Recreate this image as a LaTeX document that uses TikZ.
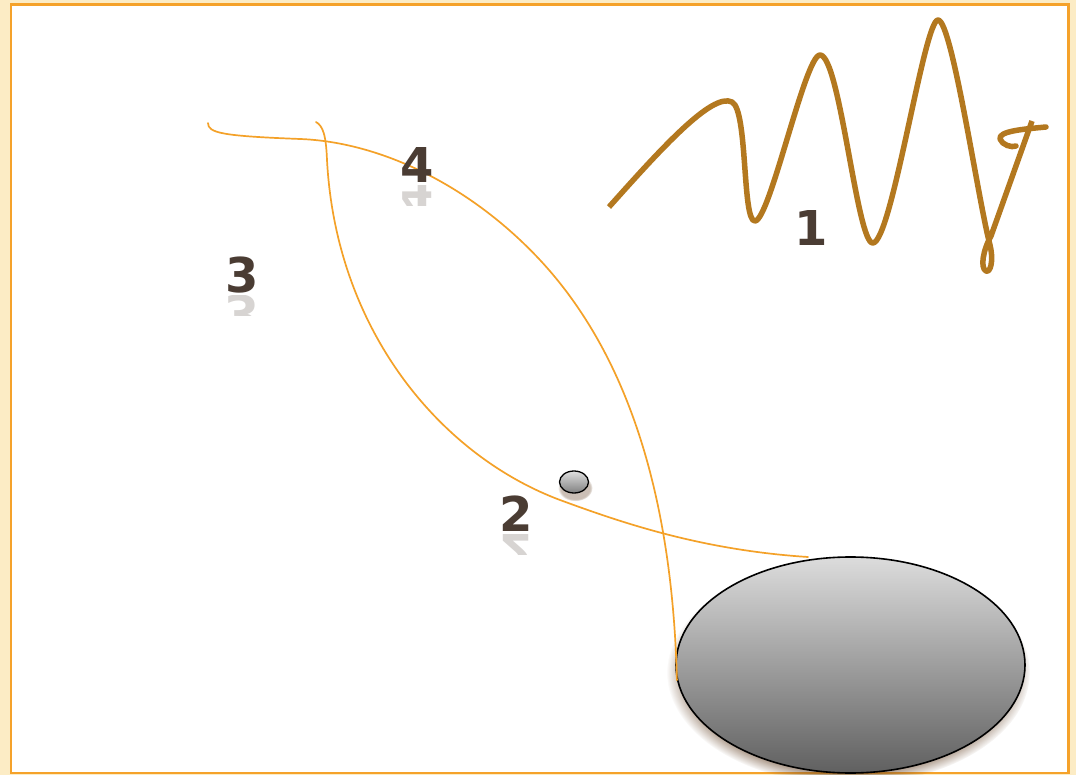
\documentclass[tikz,border=0pt]{standalone}
\usepackage{fontspec}
\usepackage{tikz}
\usetikzlibrary{shapes.geometric, shadows}
\newfontfamily\numfont{DejaVu Sans}
\definecolor{cream}{HTML}{FCECC5}
\definecolor{rim}{HTML}{F5A22A}
\definecolor{wire}{HTML}{F4A128}
\definecolor{ochre}{HTML}{B3781F}
\definecolor{cocoa}{HTML}{4A3C33}
\definecolor{silver}{HTML}{DCDCDC}
\definecolor{slate}{HTML}{606060}
\definecolor{umber}{HTML}{6B4A2E}

\begin{document}
\begin{tikzpicture}[x=1pt, y=-1pt,
  num/.style={font=\numfont\bfseries\fontsize{48pt}{48pt}\selectfont,
              text=cocoa, anchor=base, inner sep=0pt},
  refl/.style={num, text=cocoa!22, yscale=-1, transform shape},
  thread/.style={draw=wire, line width=1.7pt, line cap=round},
  squiggle/.style={draw=ochre, line width=5.5pt, line join=round},
  ball/.style={ellipse, draw=black, line width=1.3pt, inner sep=0pt,
               minimum width=29pt, minimum height=22pt,
               top color=silver!90, bottom color=slate!80,
               circular drop shadow={shadow xshift=1pt, shadow yshift=-5pt,
                                     shadow scale=1.2, fill=umber, opacity=.35}},
  disc/.style={ellipse, draw=black, line width=1.6pt, inner sep=0pt,
               minimum width=349pt, minimum height=216pt,
               top color=silver, bottom color=slate,
               circular drop shadow={shadow xshift=-2pt, shadow yshift=-7pt,
                                     shadow scale=1.04, fill=umber, opacity=.8}}
]
  \useasboundingbox (0,0) rectangle (1076,775);
  \fill[cream] (0,0) rectangle (1076,775);
  \draw[rim, line width=2.5pt, fill=white] (11,4.5) rectangle (1068.5,773);

  \node[disc] (disc) at (850.5,665) {};
  \node[ball] (ball) at (574,482) {};

  \coordinate (aStart) at (208,123);
  \coordinate (bStart) at (316,122);
  \coordinate (bEnd) at (808,557);
  \draw[thread] (aStart) .. controls (208,133) and (222,136) .. (300,139)
    .. controls (380,142) and (470,185) .. (540,260)
    .. controls (620,346) and (672,480) .. (disc.185);
  \draw[thread] (bStart) .. controls (323,126) and (326,135) .. (327,160)
    .. controls (336,330) and (440,455) .. (560,500)
    .. controls (620,522) and (700,550) .. (bEnd);

  \draw[squiggle] (609,207) .. controls (660,150) and (712,92) .. (732,102)
    .. controls (748,110) and (742,222) .. (755,221)
    .. controls (770,220) and (805,55) .. (820,55)
    .. controls (840,55) and (857,245) .. (873,243)
    .. controls (892,241) and (924,20) .. (938,20)
    .. controls (952,20) and (978,200) .. (990,245)
    .. controls (994,262) and (990,273) .. (986,271)
    .. controls (980,268) and (983,250) .. (991,236) -- (1032,121);
  \draw[squiggle, line cap=round] (1046,127) .. controls (1025,129) and (998,131) .. (1000,139)
    .. controls (1002,145) and (1012,148) .. (1016,146);

  \node[num] (n1) at (811,246) {1};
  \node[num] (n2) at (516,531) {2};
  \node[num] (n3) at (242,293) {3};
  \node[num] (n4) at (417,183) {4};

  \begin{scope}
    \clip (490,534) rectangle (545,554);
    \node[refl] (r2) at (516,534) {2};
  \end{scope}
  \begin{scope}
    \clip (215,296) rectangle (270,316);
    \node[refl] (r3) at (242,296) {3};
  \end{scope}
  \begin{scope}
    \clip (390,186) rectangle (445,206);
    \node[refl] (r4) at (417,186) {4};
  \end{scope}
\end{tikzpicture}
\end{document}
